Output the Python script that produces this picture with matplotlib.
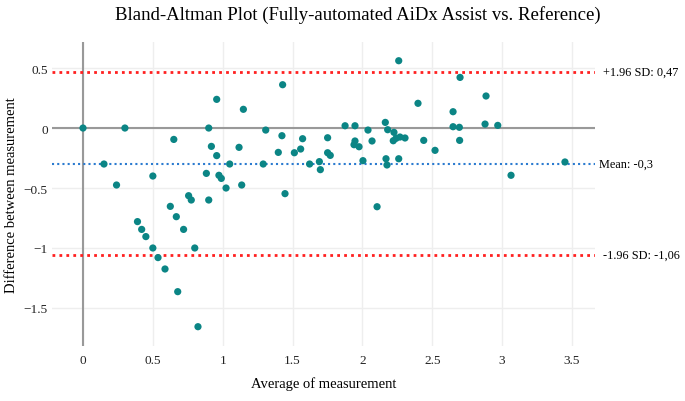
import numpy as np
import matplotlib
matplotlib.use("Agg")
import matplotlib.pyplot as plt

plt.rcParams['font.family'] = ['Liberation Serif', 'DejaVu Serif']

# average of the two measurements
avg = [0.00, 0.30, 0.15, 0.24, 0.50, 0.65, 0.39, 0.42, 0.45, 0.50,
       0.537, 0.587, 0.678, 0.823, 0.625, 0.668, 0.72, 0.756, 0.775, 0.80,
       0.90, 0.957, 0.919, 0.957, 0.883, 0.90, 0.973, 0.99, 1.024, 1.05,
       1.117, 1.136, 1.148, 1.308, 1.29, 1.398, 1.424, 1.429, 1.446,
       1.513, 1.558, 1.572, 1.622, 1.692, 1.699, 1.751, 1.751, 1.77,
       1.876, 1.947, 1.94, 1.947, 1.976, 2.004, 2.04, 2.069, 2.105,
       2.164, 2.181, 2.169, 2.176, 2.226, 2.221, 2.241, 2.269, 2.305,
       2.26, 2.26, 2.398, 2.439, 2.52, 2.649, 2.649, 2.694, 2.696, 2.699,
       2.885, 2.878, 2.969, 3.064, 3.45]
# difference between the two measurements
diff = [0.00, 0.00, -0.30, -0.475, -0.40, -0.095, -0.78, -0.845, -0.905, -1.00,
        -1.08, -1.175, -1.364, -1.656, -0.653, -0.739, -0.845, -0.564, -0.60, -1.00,
        0.00, 0.239, -0.153, -0.23, -0.378, -0.60, -0.394, -0.42, -0.50, -0.30,
        -0.161, -0.475, 0.156, -0.017, -0.30, -0.203, -0.064, 0.361, -0.547,
        -0.206, -0.175, -0.089, -0.30, -0.28, -0.347, -0.081, -0.206, -0.228,
        0.019, 0.019, -0.139, -0.108, -0.156, -0.272, -0.017, -0.108, -0.656,
        0.047, -0.014, -0.256, -0.308, -0.036, -0.106, -0.086, -0.075, -0.083,
        -0.256, 0.561, 0.206, -0.103, -0.186, 0.136, 0.011, 0.006, -0.103, 0.422,
        0.267, 0.033, 0.022, -0.394, -0.283]

mean_diff = -0.3
upper_loa = 0.47
lower_loa = -1.06

fig = plt.figure(figsize=(6.85, 4.02), dpi=100)
ax = fig.add_axes([0.0759, 0.1368, 0.7927, 0.7562])

ax.set_xlim(-0.222, 3.665)
ax.set_ylim(-1.817, 0.717)
ax.set_xticks([0, 0.5, 1, 1.5, 2, 2.5, 3, 3.5])
ax.set_xticklabels(['0', '0.5', '1', '1.5', '2', '2.5', '3', '3.5'])
ax.set_yticks([-1.5, -1, -0.5, 0, 0.5])
ax.set_yticklabels(['\u22121.5', '\u22121', '\u22120.5', '0', '0.5'])
ax.grid(True, color='#eeeeee', linewidth=1)
ax.set_axisbelow(True)
for s in ax.spines.values():
    s.set_visible(False)
ax.tick_params(length=0, labelsize=9.5, colors='#222222')
ax.tick_params(axis='x', pad=6)
ax.tick_params(axis='y', pad=3)

ax.axhline(0, color='#999999', linewidth=1.5, zorder=1)
ax.axvline(0, color='#999999', linewidth=1.5, zorder=1)

ax.axhline(upper_loa, color='#ff2020', linestyle=(0, (1, 1.5)), linewidth=2, zorder=2)
ax.axhline(lower_loa, color='#ff2020', linestyle=(0, (1, 1.5)), linewidth=2, zorder=2)
ax.axhline(mean_diff, color='#2b7bd0', linestyle=(0, (1, 1.5)), linewidth=1.5, zorder=2)

ax.scatter(avg, diff, s=27, color='#0b8585', edgecolors='none', zorder=3)

ax.text(1.015, upper_loa, '+1.96 SD: 0,47', transform=ax.get_yaxis_transform(),
        va='center', ha='left', fontsize=8.8)
ax.text(1.008, mean_diff, 'Mean: -0,3', transform=ax.get_yaxis_transform(),
        va='center', ha='left', fontsize=8.8)
ax.text(1.015, lower_loa, '-1.96 SD: -1,06', transform=ax.get_yaxis_transform(),
        va='center', ha='left', fontsize=8.8)

fig.text(0.523, 0.962, 'Bland-Altman Plot (Fully-automated AiDx Assist vs. Reference)',
         ha='center', va='center', fontsize=13.5)
ax.set_xlabel('Average of measurement', fontsize=10.5, labelpad=7)
ax.set_ylabel('Difference between measurement', fontsize=10.5, labelpad=4)

fig.savefig('out.png', dpi=100)
